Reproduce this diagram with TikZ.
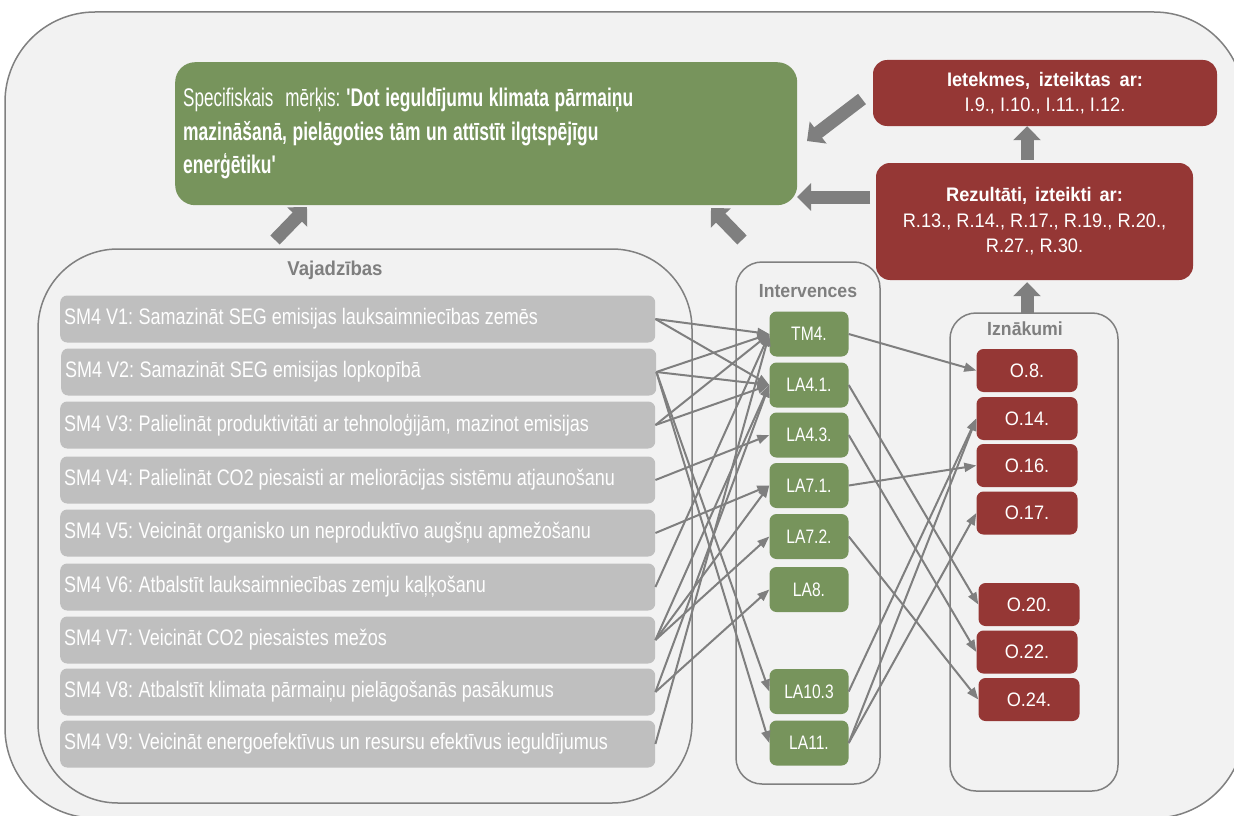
\documentclass[tikz,border=0pt]{standalone}
\usepackage{fontspec}
\setmainfont{Liberation Sans}
\newfontfamily\needf{Liberation Sans}[FakeStretch=0.8]
\newfontfamily\goalf{Liberation Sans}[FakeStretch=0.67, BoldFeatures={FakeStretch=0.685}]
\newfontfamily\redf{Liberation Sans}[FakeStretch=0.93]
\newfontfamily\intf{Liberation Sans}[FakeStretch=0.8]
\newcommand\needspacing{\spaceskip 5pt plus 1pt minus 1pt\xspaceskip 5.5pt plus 1pt minus 1pt\relax}
\newcommand\goalspacing{\spaceskip 5.6pt plus 1pt minus 1pt\xspaceskip 6pt plus 1pt minus 1pt\relax}
\usetikzlibrary{arrows.meta,calc}
\definecolor{bgc}{HTML}{F2F2F2}
\definecolor{framec}{HTML}{808080}
\definecolor{greenc}{HTML}{77945C}
\definecolor{redc}{HTML}{953735}
\definecolor{needc}{HTML}{BFBFBF}
\definecolor{linec}{HTML}{7F7F7F}
\definecolor{titlec}{HTML}{7F7F7F}
\tikzset{
  frame/.style={draw=framec, line width=1.5pt, fill=bgc},
  needbox/.style={fill=needc, rounded corners=7pt, text width=587pt, inner xsep=4pt, inner ysep=0pt,
     minimum height=47pt, align=left, anchor=west, text=white,
     font=\needf\fontsize{22.5}{26}\selectfont, execute at begin node=\needspacing},
  intbox/.style={fill=greenc, rounded corners=7pt, minimum width=79pt, minimum height=45pt, inner sep=0pt,
     text=white, font=\intf\fontsize{19.5}{22}\selectfont},
  outbox/.style={fill=redc, rounded corners=7pt, minimum width=101pt, minimum height=43pt, inner sep=0pt,
     text=white, font=\redf\fontsize{19.5}{22}\selectfont},
  redbox/.style={fill=redc, rounded corners=14pt, inner sep=0pt, align=center, text=white,
     font=\redf\fontsize{19.6}{25.5}\selectfont},
  grouptitle/.style={text=titlec, font=\bfseries\redf\fontsize{19}{22}\selectfont, inner sep=0pt},
  conn/.style={draw=linec, line width=2pt, -{Triangle[width=9pt,length=12pt]}},
  bigarrow/.style={draw=linec, line width=13pt, -{Triangle[width=27pt,length=14pt]}},
}
\begin{document}
\begin{tikzpicture}[x=1pt,y=-1pt]
\useasboundingbox (0,0) rectangle (1234,816);
\fill[white] (0,0) rectangle (1234,816);
% outer frame
\draw[frame, rounded corners=90pt] (5,12) rectangle (1244,818);
% containers
\draw[frame, rounded corners=80pt] (38,249) rectangle (692,803);
\draw[frame, rounded corners=26pt] (736,262) rectangle (880,784);
\draw[frame, rounded corners=26pt] (950,313) rectangle (1118,791);
\node[grouptitle, font=\bfseries\redf\fontsize{20}{22}\selectfont] (tvaj) at (335,270) {Vajadzības};
\node[grouptitle] (tint) at (808,291) {Intervences};
\node[grouptitle] (tizn) at (1025,329) {Iznākumi};

% goal
\node[fill=greenc, rounded corners=20pt, minimum width=622pt, minimum height=143pt, text width=606pt,
      inner xsep=8pt, inner ysep=0pt, align=left, text=white, anchor=north west,
      font=\goalf\fontsize{25.5}{33.5}\selectfont, execute at begin node=\goalspacing] (goal) at (175,62)
  {Specifiskais\hspace{0.25em} mērķis: \textbf{'Dot ieguldījumu klimata pārmaiņu}\\
   \textbf{mazināšanā, pielāgoties tām un attīstīt ilgtspējīgu}\\
   \textbf{enerģētiku'}};

% red result boxes
\node[redbox, minimum width=344pt, minimum height=66pt] (iet) at (1045,93)
  {\textbf{Ietekmes,\hspace{0.45em}izteiktas\hspace{0.45em}ar:}\\I.9., I.10., I.11., I.12.};
\node[redbox, minimum width=317pt, minimum height=117pt] (rez) at (1034.5,221.5)
  {\textbf{Rezultāti,\hspace{0.4em}izteikti\hspace{0.4em}ar:}\\R.13., R.14., R.17., R.19., R.20.,\\R.27., R.30.};

% needs
\node[needbox] (v1) at (60,319) {SM4 V1: Samazināt SEG emisijas lauksaimniecības zemēs};
\node[needbox] (v2) at (61,372) {SM4 V2: Samazināt SEG emisijas lopkopībā};
\node[needbox] (v3) at (60,425) {SM4 V3: Palielināt produktivitāti ar tehnoloģijām, mazinot emisijas};
\node[needbox] (v4) at (60,480) {SM4 V4: Palielināt CO2 piesaisti ar meliorācijas sistēmu atjaunošanu};
\node[needbox] (v5) at (60,533) {SM4 V5: Veicināt organisko un neproduktīvo augšņu apmežošanu};
\node[needbox] (v6) at (60,587) {SM4 V6: Atbalstīt lauksaimniecības zemju kaļķošanu};
\node[needbox] (v7) at (60,640) {SM4 V7: Veicināt CO2 piesaistes mežos};
\node[needbox] (v8) at (60,692) {SM4 V8: Atbalstīt klimata pārmaiņu pielāgošanās pasākumus};
\node[needbox] (v9) at (60,744) {SM4 V9: Veicināt energoefektīvus un resursu efektīvus ieguldījumus};

% interventions
\node[intbox] (tm4)  at (809,334) {TM4.};
\node[intbox] (la41) at (809,385) {LA4.1.};
\node[intbox] (la43) at (809,435) {LA4.3.};
\node[intbox] (la71) at (809,485.5) {LA7.1.};
\node[intbox] (la72) at (809,536.5) {LA7.2.};
\node[intbox] (la8)  at (809,589.5) {LA8.};
\node[intbox] (la103) at (809,691.5) {LA10.3};
\node[intbox] (la11) at (809,743) {LA11.};

% outputs
\node[outbox] (o8)  at (1027,370.5) {O.8.};
\node[outbox] (o14) at (1027,418.5) {O.14.};
\node[outbox] (o16) at (1027,465.5) {O.16.};
\node[outbox] (o17) at (1027,513) {O.17.};
\node[outbox] (o20) at (1029,604.5) {O.20.};
\node[outbox] (o22) at (1027,652) {O.22.};
\node[outbox] (o24) at (1029,699.5) {O.24.};

% needs -> interventions
\foreach \a/\b in {v1/tm4, v1/la41, v2/tm4, v2/la41, v2/la103, v2/la11, v3/tm4, v3/la41,
                   v4/la43, v5/la71, v6/tm4, v7/la41, v7/la71, v7/la72, v8/la8, v8/la41, v9/tm4}
  \draw[conn] (\a.east) -- (\b.west);
% interventions -> outputs
\foreach \a/\b in {tm4/o8, la41/o20, la43/o22, la71/o16, la72/o24, la103/o14, la11/o14, la11/o17}
  \draw[conn] (\a.east) -- (\b.west);

% block arrows
\coordinate (ax) at (1027,0);
\coordinate (iznTop) at (1027,313);
\draw[bigarrow, shorten <=3pt] (rez.north -| ax) -- (iet.south -| ax);
\draw[bigarrow, shorten >=2pt] (iznTop) -- (rez.south -| ax);
\coordinate (ietTail) at (862,99);
\coordinate (ietHead) at (807,141);
\draw[bigarrow] (ietTail) -- (ietHead);
\coordinate (rezTail) at (870,197);
\coordinate (rezHead) at (797,197);
\draw[bigarrow] (rezTail) -- (rezHead);
\coordinate (vajTail) at (275,240);
\coordinate (vajHead) at (307,207);
\draw[bigarrow] (vajTail) -- (vajHead);
\coordinate (intTail) at (742,240);
\coordinate (intHead) at (711,208);
\draw[bigarrow] (intTail) -- (intHead);
\end{tikzpicture}
\end{document}
